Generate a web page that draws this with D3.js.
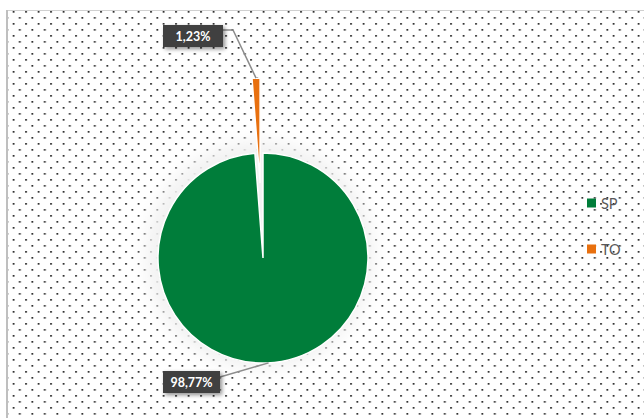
<!DOCTYPE html>
<html><head><meta charset="utf-8">
<script src="https://cdn.jsdelivr.net/npm/d3@7"></script>
<style>html,body{margin:0;padding:0;background:#fff;}svg{display:block;}</style>
</head><body>
<script>
const categories = ["SP", "TO"];
const values = [98.77, 1.23];
const labels = ["98,77%", "1,23%"];
const colors = ["#007d3a", "#e8700f"];

const W = 644, H = 418;
const cx = 263, cy = 258, R = 105;
const explode = [0, 75];

const svg = d3.select("body").append("svg").attr("width", W).attr("height", H);
const defs = svg.append("defs");

const pat = defs.append("pattern").attr("id", "dots").attr("patternUnits", "userSpaceOnUse")
  .attr("x", 0.2).attr("y", -1).attr("width", 12.5).attr("height", 12);
pat.append("rect").attr("width", 12.5).attr("height", 12).attr("fill", "#fff");
pat.append("rect").attr("x", 0).attr("y", 0).attr("width", 1.7).attr("height", 1.7).attr("fill", "#222");
pat.append("rect").attr("x", 6.25).attr("y", 6).attr("width", 1.7).attr("height", 1.7).attr("fill", "#222");

const halo = defs.append("filter").attr("id", "halo").attr("x", "-30%").attr("y", "-30%").attr("width", "160%").attr("height", "160%");
halo.append("feGaussianBlur").attr("stdDeviation", 8);

const sh = defs.append("filter").attr("id", "sh").attr("x", "-20%").attr("y", "-30%").attr("width", "150%").attr("height", "180%");
sh.append("feGaussianBlur").attr("in", "SourceAlpha").attr("stdDeviation", 2).attr("result", "b");
sh.append("feOffset").attr("in", "b").attr("dx", 2).attr("dy", 2).attr("result", "o");
sh.append("feComponentTransfer").attr("in", "o").attr("result", "o2")
  .append("feFuncA").attr("type", "linear").attr("slope", 0.45);
const mg = sh.append("feMerge");
mg.append("feMergeNode").attr("in", "o2");
mg.append("feMergeNode").attr("in", "SourceGraphic");

// plot area
svg.append("rect").attr("x", 7).attr("y", 10).attr("width", W - 7).attr("height", H - 10).attr("fill", "url(#dots)");
svg.append("line").attr("x1", 7).attr("x2", W).attr("y1", 10.5).attr("y2", 10.5).attr("stroke", "#d0d0d0").attr("stroke-width", 1);
svg.append("line").attr("x1", 7).attr("x2", 7).attr("y1", 10).attr("y2", H).attr("stroke", "#bfbfbf").attr("stroke-width", 2);

// halo behind pie
svg.append("circle").attr("cx", cx - 3).attr("cy", cy - 3).attr("r", R + 9).attr("fill", "#f2f2f2").attr("filter", "url(#halo)");

const pie = d3.pie().sort(null).value(d => d)(values);
const arc = d3.arc().innerRadius(0).outerRadius(R);
const g = svg.append("g").attr("transform", `translate(${cx},${cy})`);

function offset(d, i) {
  const a = (d.startAngle + d.endAngle) / 2;
  return [Math.sin(a) * explode[i], -Math.cos(a) * explode[i]];
}

g.selectAll("path.slice").data(pie).join("path").attr("class", "slice")
  .attr("d", arc).attr("fill", (d, i) => colors[i])
  .attr("stroke", "#fff").attr("stroke-width", 1.5)
  .attr("transform", (d, i) => { const o = offset(d, i); return `translate(${o[0]},${o[1]})`; });

// labels
const labelBoxes = [
  { x: 163, y: 371, w: 57, h: 22, anchorAngle: Math.PI * 0.983, lineY: 377 },
  { x: 163, y: 25, w: 60, h: 22, anchorAngle: null, lineY: 30 }
];

pie.forEach((d, i) => {
  const b = labelBoxes[i];
  const o = offset(d, i);
  const a = b.anchorAngle !== null ? b.anchorAngle : (d.startAngle + d.endAngle) / 2;
  const px = cx + o[0] + Math.sin(a) * R;
  const py = cy + o[1] - Math.cos(a) * R;
  let pts;
  if (i === 1) pts = [[b.x + b.w, b.lineY], [b.x + b.w + 10, b.lineY], [px, py]];
  else pts = [[b.x + b.w, b.lineY], [px, py]];
  svg.append("path").attr("d", d3.line()(pts)).attr("fill", "none").attr("stroke", "#8c8c8c").attr("stroke-width", 1.5);
  svg.append("rect").attr("x", b.x).attr("y", b.y).attr("width", b.w).attr("height", b.h)
    .attr("fill", "#404040").attr("filter", "url(#sh)");
  svg.append("text").attr("x", b.x + b.w / 2).attr("y", b.y + b.h / 2 + 4.5)
    .attr("text-anchor", "middle").attr("fill", "#fff").attr("font-family", "Lato, 'Open Sans', sans-serif")
    .attr("font-weight", "bold").attr("font-size", 12.5).text(labels[i]);
});

// legend
const lg = svg.append("g");
categories.forEach((c, i) => {
  const y = 198.5 + i * 46;
  lg.append("rect").attr("x", 587).attr("y", y).attr("width", 9).attr("height", 9).attr("fill", colors[i]);
  lg.append("text").attr("x", 601).attr("y", y + 10).attr("fill", "#595959")
    .attr("font-family", "Lato, 'Open Sans', sans-serif").attr("font-size", 14.5).text(c);
});
</script>
</body></html>
